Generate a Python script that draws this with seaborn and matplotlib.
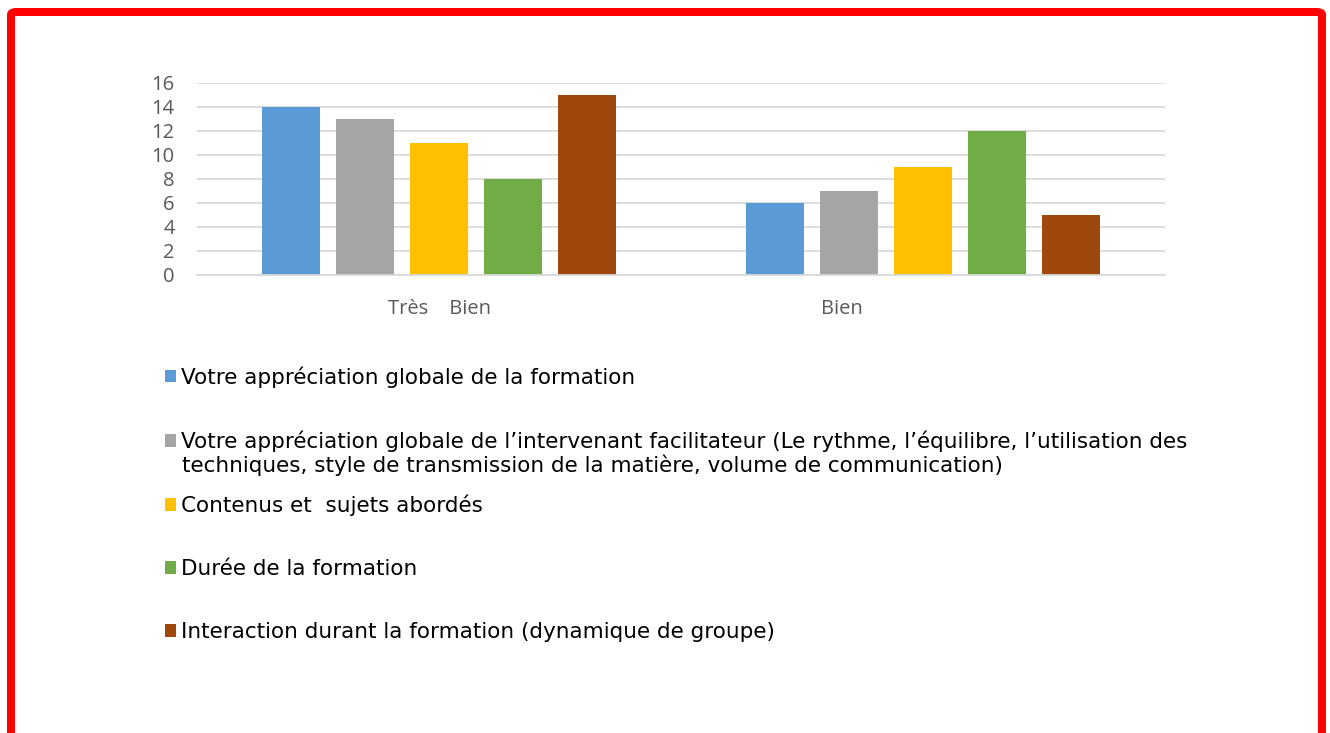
import pandas as pd
import seaborn as sns
import matplotlib.pyplot as plt
from matplotlib.patches import FancyBboxPatch
from matplotlib.transforms import ScaledTranslation

categories = ['Très    Bien', 'Bien']
series = [
    'Votre appréciation globale de la formation',
    'Votre appréciation globale de l’intervenant facilitateur (Le rythme, l’équilibre, l’utilisation des',
    'Contenus et  sujets abordés',
    'Durée de la formation',
    'Interaction durant la formation (dynamique de groupe)',
]
series_line2 = 'techniques, style de transmission de la matière, volume de communication)'
values = [
    [14, 6],
    [13, 7],
    [11, 9],
    [8, 12],
    [15, 5],
]
colors = ['#5B9BD5', '#A5A5A5', '#FFC000', '#70AD47', '#9E480E']

rows = []
for s, vals in zip(series, values):
    for c, v in zip(categories, vals):
        rows.append({'cat': c, 'serie': s, 'val': v})
df = pd.DataFrame(rows)

plt.rcParams['font.family'] = ['Open Sans', 'DejaVu Sans']

W, H, DPI = 1330, 733, 100
fig = plt.figure(figsize=(W / DPI, H / DPI), dpi=DPI)
fig.patch.set_facecolor('white')
ax = fig.add_axes([197 / W, 1 - 275 / H, (1165 - 197) / W, (275 - 83) / H])

sns.barplot(data=df, x='cat', y='val', hue='serie', order=categories,
            hue_order=series, palette=colors, saturation=1, width=0.765,
            gap=0.217, linewidth=0, edgecolor='none', legend=False, ax=ax)

ax.set_ylim(0, 16)
ax.set_yticks(range(0, 17, 2))
ax.set_xlabel('')
ax.set_ylabel('')
ax.grid(axis='y', color='#D9D9D9', linewidth=1.3)
ax.set_axisbelow(True)
for side in ['top', 'right', 'left']:
    ax.spines[side].set_visible(False)
ax.spines['bottom'].set_color('#D9D9D9')
ax.spines['bottom'].set_linewidth(1.3)
ax.tick_params(axis='both', length=0, labelcolor='#595959', labelsize=14.5)
ax.tick_params(axis='y', pad=16)
ax.tick_params(axis='x', pad=17)

# "Bien" sits left of its group in the original
lab = ax.get_xticklabels()[1]
lab.set_transform(lab.get_transform() + ScaledTranslation(-81 / DPI, 0, fig.dpi_scale_trans))

fs = 15.45
leg = fig.legend(handles=list(ax.containers), labels=series, loc='upper left',
                 bbox_to_anchor=(165 / W, 1 - 366 / H), frameon=False,
                 prop={'family': 'DejaVu Sans', 'size': fs},
                 handlelength=0.52, handleheight=0.52, handletextpad=0.22,
                 labelspacing=2.0, borderpad=0, borderaxespad=0)
fig.text(182 / W, 1 - 465 / H, series_line2, fontfamily='DejaVu Sans',
         fontsize=fs, va='center', ha='left', color='black')

frame = FancyBboxPatch((11 / W, -40 / H), (1322 - 11) / W, (733 + 40 - 12) / H,
                       boxstyle='round,pad=0,rounding_size=0.004',
                       transform=fig.transFigure, facecolor='none',
                       edgecolor='#FF0000', linewidth=8 * 72 / DPI, clip_on=False)
fig.add_artist(frame)

fig.savefig('out.png', dpi=DPI)
